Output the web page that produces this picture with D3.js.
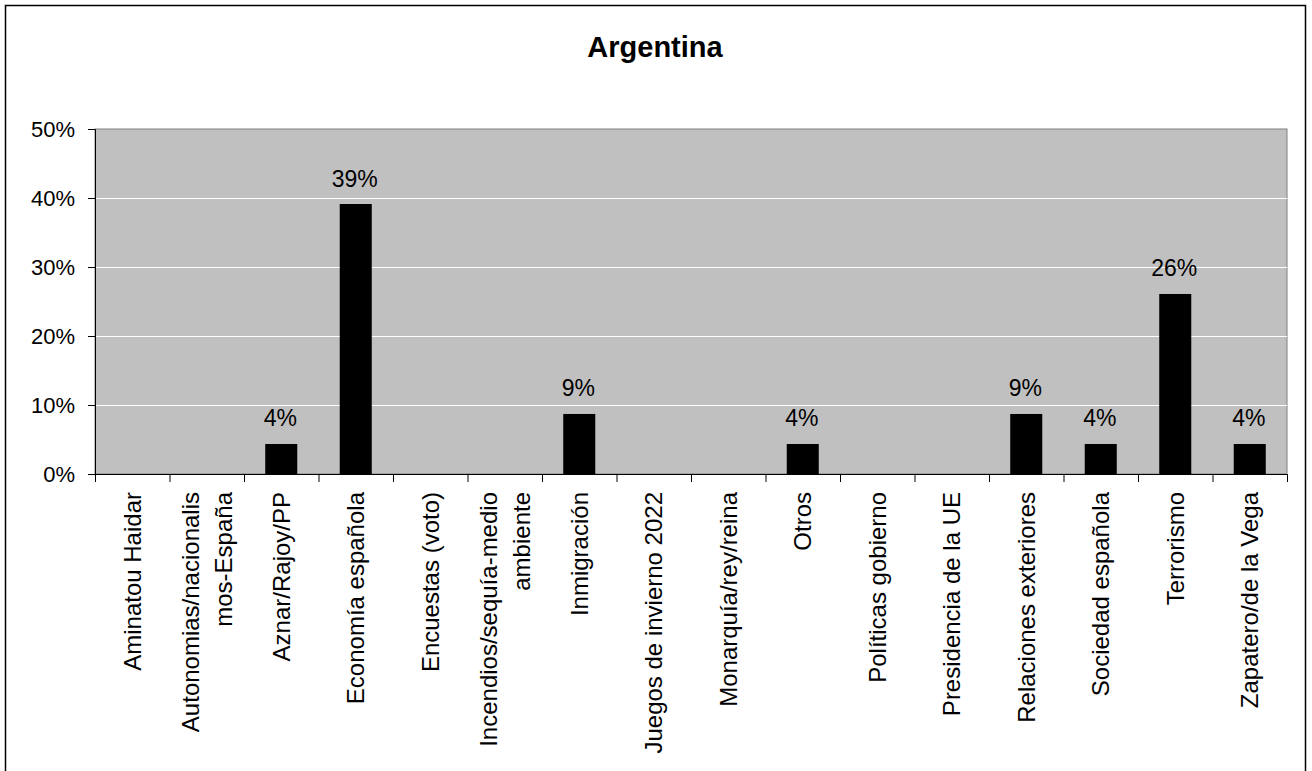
<!DOCTYPE html>
<html>
<head>
<meta charset="utf-8">
<script src="https://cdn.jsdelivr.net/npm/d3@7"></script>
<style>
  html, body { margin: 0; padding: 0; background: #fff; }
  svg { display: block; font-family: "Liberation Sans", Arial, sans-serif; }
</style>
</head>
<body>
<svg id="chart" width="1312" height="771"></svg>
<script>
const title = "Argentina";
const categories = [
  ["Aminatou Haidar"],
  ["Autonomias/nacionalis", "mos-España"],
  ["Aznar/Rajoy/PP"],
  ["Economía española"],
  ["Encuestas (voto)"],
  ["Incendios/sequía-medio", "ambiente"],
  ["Inmigración"],
  ["Juegos de invierno 2022"],
  ["Monarquía/rey/reina"],
  ["Otros"],
  ["Políticas gobierno"],
  ["Presidencia de la UE"],
  ["Relaciones exteriores"],
  ["Sociedad española"],
  ["Terrorismo"],
  ["Zapatero/de la Vega"]
];
const values = [0, 0, 0.0435, 0.3913, 0, 0, 0.0870, 0, 0, 0.0435, 0, 0, 0.0870, 0.0435, 0.2609, 0.0435];
const yTicks = [0, 0.1, 0.2, 0.3, 0.4, 0.5];

const svg = d3.select("#chart");
const pLeft = 95, pRight = 1287, pTop = 129, pBottom = 474;

// outer frame
svg.append("path")
  .attr("d", `M5.5,775 V5.5 H1305.5 V775`)
  .attr("fill", "none").attr("stroke", "#000").attr("stroke-width", 1.5);

svg.append("text")
  .attr("x", 655).attr("y", 57)
  .attr("text-anchor", "middle")
  .attr("font-size", 29).attr("font-weight", "bold")
  .text(title);

const x = d3.scaleBand().domain(d3.range(categories.length)).range([pLeft, pRight]).paddingInner(0.57).paddingOuter(0.285);
const xb = d3.scaleLinear().domain([0, categories.length]).range([pLeft, pRight]);
const y = d3.scaleLinear().domain([0, 0.5]).range([pBottom, pTop]);

// plot area
svg.append("rect").attr("x", pLeft).attr("y", pTop).attr("width", pRight - pLeft).attr("height", pBottom - pTop)
  .attr("fill", "#c0c0c0").attr("stroke", "#808080").attr("stroke-width", 1);

// gridlines
svg.append("g").selectAll("line").data(yTicks.filter(t => t > 0 && t < 0.5)).join("line")
  .attr("x1", pLeft).attr("x2", pRight)
  .attr("y1", d => Math.round(y(d)) + 0.5).attr("y2", d => Math.round(y(d)) + 0.5)
  .attr("stroke", "#fff").attr("stroke-width", 1);

// bars
svg.append("g").selectAll("rect").data(values).join("rect")
  .attr("x", (d, i) => x(i)).attr("width", x.bandwidth())
  .attr("y", d => y(d)).attr("height", d => pBottom - y(d))
  .attr("fill", "#000");

// value labels
svg.append("g").selectAll("text").data(values.map((v, i) => [v, i]).filter(d => d[0] > 0)).join("text")
  .attr("x", d => x(d[1]) + x.bandwidth() / 2 - 1)
  .attr("y", d => y(d[0]) - 17.5)
  .attr("text-anchor", "middle")
  .attr("font-size", 23)
  .text(d => d3.format(".0%")(d[0]));

// y axis
const yAxis = d3.axisLeft(y).tickValues(yTicks).tickFormat(d3.format(".0%")).tickSize(7).tickPadding(13);
const gy = svg.append("g").attr("transform", `translate(${pLeft},0)`).call(yAxis);
gy.select(".domain").attr("stroke", "#000");
gy.selectAll(".tick line").attr("stroke", "#000");
gy.selectAll("text").attr("font-size", 22).attr("font-family", "Liberation Sans, Arial, sans-serif")
  .attr("fill", "#000").attr("dy", "0.36em");

// x axis ticks at category boundaries
const xAxis = d3.axisBottom(xb).tickValues(d3.range(categories.length + 1)).tickSize(8).tickFormat("");
const gx = svg.append("g").attr("transform", `translate(0,${pBottom})`).call(xAxis);
gx.select(".domain").attr("stroke", "#000");
gx.selectAll(".tick line").attr("stroke", "#000");

// category labels
const lineGap = 33;
const lab = svg.append("g").selectAll("text").data(categories).join("text")
  .attr("transform", (d, i) => `translate(${x(i) + x.bandwidth() / 2},492) rotate(-90)`)
  .attr("text-anchor", "end")
  .attr("font-size", 24);
lab.each(function(d) {
  const n = d.length;
  d3.select(this).selectAll("tspan").data(d).join("tspan")
    .attr("x", 0)
    .attr("y", (t, k) => (k - (n - 1) / 2) * lineGap)
    .attr("dy", "0.36em")
    .text(t => t);
});
</script>
</body>
</html>
